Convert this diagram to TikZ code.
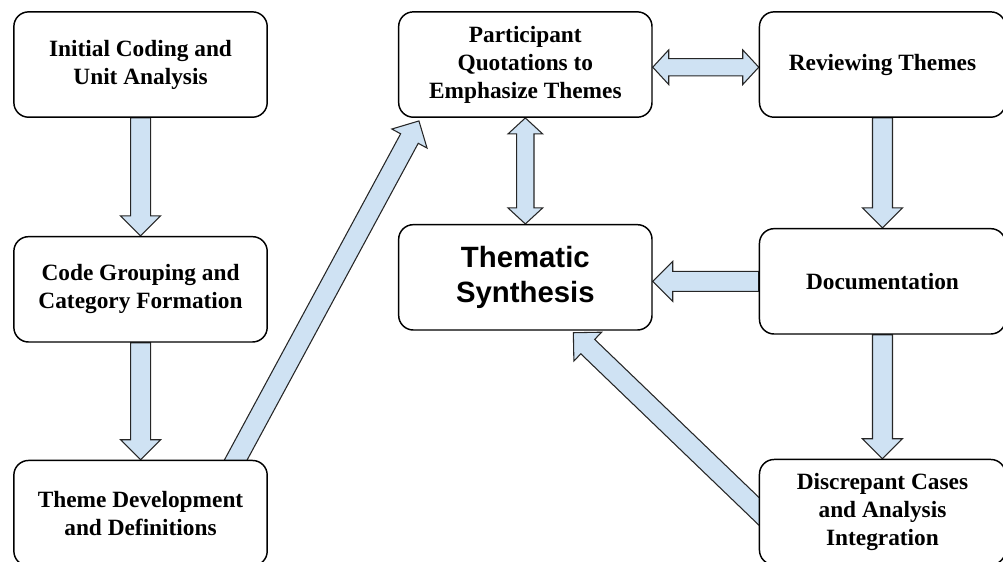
\documentclass[tikz,border=0pt]{standalone}
\usepackage{fontspec}
\setmainfont{Liberation Serif}
\newfontfamily\synthfont{Liberation Sans}
\usepackage{xcolor}
\usetikzlibrary{positioning,calc,backgrounds}
\definecolor{arrowblue}{HTML}{CFE2F3}

% sizes of the fat arrows
\newcommand{\fatshaft}{7.5pt}
\newcommand{\fathead}{15pt}
\newcommand{\fatheadlen}{15pt}

% fat arrow from #1 to #2
\newcommand{\fatarrow}[2]{%
  \coordinate (fa-s) at (#1);
  \coordinate (fa-t) at (#2);
  \coordinate (fa-h) at ($(fa-t)!\fatheadlen!(fa-s)$);
  \draw[block arrow] ($(fa-s)!\fatshaft!90:(fa-t)$) -- ($(fa-h)!\fatshaft!90:(fa-t)$)
    -- ($(fa-h)!\fathead!90:(fa-t)$) -- (fa-t) -- ($(fa-h)!\fathead!-90:(fa-t)$)
    -- ($(fa-h)!\fatshaft!-90:(fa-t)$) -- ($(fa-s)!\fatshaft!-90:(fa-t)$) -- cycle;}

% fat arrow with two heads
\newcommand{\dfatarrow}[2]{%
  \coordinate (fa-s) at (#1);
  \coordinate (fa-t) at (#2);
  \coordinate (fa-h) at ($(fa-t)!12pt!(fa-s)$);
  \coordinate (fa-g) at ($(fa-s)!12pt!(fa-t)$);
  \draw[block arrow] ($(fa-g)!6.5pt!90:(fa-t)$) -- ($(fa-h)!6.5pt!90:(fa-t)$)
    -- ($(fa-h)!13pt!90:(fa-t)$) -- (fa-t) -- ($(fa-h)!13pt!-90:(fa-t)$)
    -- ($(fa-h)!6.5pt!-90:(fa-t)$) -- ($(fa-g)!6.5pt!-90:(fa-t)$)
    -- ($(fa-g)!13pt!-90:(fa-t)$) -- (fa-s) -- ($(fa-g)!13pt!90:(fa-t)$) -- cycle;}

\begin{document}
\begin{tikzpicture}[x=1pt,y=1pt,
                    main node/.style={draw, fill=white, line width=1.1pt, rounded corners=11pt,
                                      align=center, inner sep=0pt,
                                      minimum width=190pt, minimum height=79pt,
                                      font=\fontsize{17.5}{21}\selectfont\bfseries},
                    side node/.style={main node, minimum width=184.5pt},
                    block arrow/.style={draw=black!85, fill=arrowblue, line width=0.8pt, line join=miter}]

  \useasboundingbox (0,0) rectangle (752.25,-420.75);

  \node[main node] (init) at (105.4,-48.4) {Initial Coding and\\Unit Analysis};
  \node[main node] (group) [below=88.5pt of init] {Code Grouping and\\Category Formation};
  \node[main node] (devel) [below=87.75pt of group] {Theme Development\\and Definitions};
  \node[main node] (quote) [right=97.5pt of init] {Participant\\Quotations to\\Emphasize Themes};
  \node[side node] (review) [right=79.5pt of quote] {Reviewing Themes};
  \node[main node, font=\synthfont\fontsize{22}{26}\selectfont\bfseries] (synth) [below=79.5pt of quote] {Thematic\\Synthesis};
  \node[side node] (doc) [below=82.5pt of review] {Documentation};
  \node[side node] (disc) [below=93pt of doc] {Discrepant Cases\\and Analysis\\Integration};

  \begin{scope}[on background layer]
    \fatarrow{init.south}{group.north}
    \fatarrow{group.south}{devel.north}
    \fatarrow{$(devel.north east)+(-27.6pt,-6.6pt)$}{$(quote.south west)+(15.75pt,-2.25pt)$}
    \dfatarrow{$(quote.east)+(0,-2pt)$}{$(review.west)+(0,-2pt)$}
    \dfatarrow{quote.south}{synth.north}
    \fatarrow{review.south}{doc.north}
    \fatarrow{doc.west}{doc.west -| synth.east}
    \fatarrow{doc.south}{disc.north}
    \fatarrow{$(disc.west)+(6pt,-5pt)$}{$(synth.south)+(36pt,-1.5pt)$}
  \end{scope}
\end{tikzpicture}
\end{document}
